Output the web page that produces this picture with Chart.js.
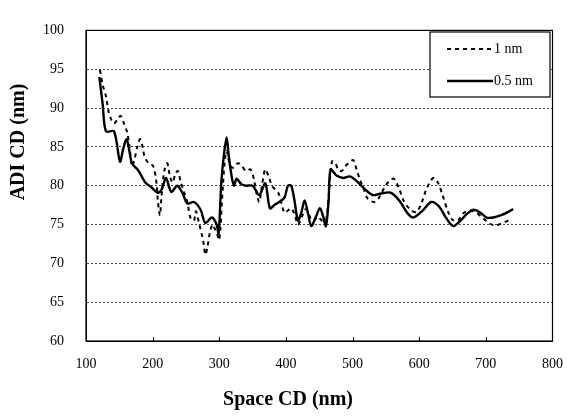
<!DOCTYPE html>
<html>
<head>
<meta charset="utf-8">
<script src="https://cdn.jsdelivr.net/npm/chart.js@4"></script>
<style>
  body { margin: 0; background: #fff; }
  canvas { display: block; }
</style>
</head>
<body>
<canvas id="cdChart" width="578" height="419"></canvas>
<script>
// Series
const dashX = [121, 125, 130, 134, 138, 142, 147, 152, 157, 162, 166, 169, 173, 177, 181, 185, 188, 194, 201, 206,
  208, 211, 213, 216, 218, 222, 226, 230, 234, 238, 242, 247, 252, 257, 262, 265, 270, 274, 277, 279,
  282, 286, 290, 293, 296, 300, 304, 308, 311, 315, 320, 328, 334, 340, 347, 352, 356, 360, 364, 369,
  374, 379, 384, 389, 394, 398, 403, 408, 413, 418, 424, 430, 436, 442, 448, 454, 460, 464, 469, 474,
  479, 484, 489, 494, 501, 506, 511, 517, 523, 533, 540, 548, 555, 562, 569, 577, 587, 596, 604, 611,
  621, 628, 635, 643, 650, 658, 667, 677, 686, 696, 706, 714, 723, 731, 738];
const dashY = [94.9, 93.0, 91.5, 89.5, 88.5, 88.0, 88.5, 89.0, 88.0, 86.8, 84.5, 82.5, 83.5, 85.0, 86.0, 85.0, 83.7, 82.9, 82.5, 80.2,
  77.9, 76.2, 78.3, 81.0, 82.1, 82.9, 81.2, 80.4, 81.5, 81.9, 80.5, 79.2, 77.9, 75.8, 75.5, 76.7, 75.0, 73.6, 72.3, 71.1,
  72.0, 74.0, 75.0, 74.5, 74.0, 73.0, 78.0, 83.0, 84.5, 83.0, 82.3, 82.9, 82.5, 81.9, 82.1, 80.8, 79.0, 77.9, 80.0, 82.1,
  81.2, 80.0, 79.5, 79.0, 77.5, 76.5, 76.8, 77.1, 76.3, 75.0, 76.0, 77.0, 76.0, 75.5, 76.0, 75.5, 75.5, 78.5, 83.1, 82.9,
  82.0, 81.9, 82.5, 82.9, 83.3, 82.1, 80.8, 79.5, 78.3, 77.9, 78.5, 79.8, 80.6, 80.9, 79.8, 78.0, 76.9, 76.6, 77.9, 79.6,
  81.0, 80.4, 78.8, 76.7, 75.6, 75.5, 76.5, 76.8, 76.5, 75.8, 75.1, 74.9, 75.1, 75.4, 75.6];

const solidX = [120, 125, 130, 142, 151, 156, 161, 165, 169, 179, 189, 198, 208, 214, 220, 228, 237, 245, 252, 262,
  272, 279, 289, 296, 299, 303, 307, 311, 314, 318, 322, 326, 333, 340, 350, 360, 369, 376, 384, 390,
  398, 403, 408, 413, 418, 423, 428, 433, 438, 445, 451, 456, 460, 464, 467, 476, 486, 496, 506, 518,
  530, 543, 557, 570, 582, 591, 604, 618, 630, 640, 651, 662, 672, 682, 692, 701, 711, 723, 733, 741];
const solidY = [94.0, 90.5, 87.0, 87.0, 83.1, 84.8, 86.0, 84.5, 82.9, 81.9, 80.4, 79.8, 79.1, 79.6, 81.0, 79.2, 80.0, 79.0, 77.7, 77.9,
  76.9, 75.2, 75.9, 75.0, 73.8, 80.4, 84.0, 86.2, 84.0, 81.5, 80.0, 80.9, 80.2, 80.0, 80.0, 78.8, 80.3, 77.1, 77.6, 77.9,
  78.5, 80.0, 80.0, 78.0, 75.5, 76.5, 78.1, 76.5, 74.8, 76.0, 77.1, 76.0, 74.8, 78.0, 82.1, 81.3, 81.0, 81.2, 80.6, 79.6,
  78.8, 79.0, 79.1, 78.1, 76.5, 75.9, 76.7, 77.9, 77.3, 75.9, 74.8, 75.5, 76.4, 76.9, 76.5, 75.9, 75.9, 76.2, 76.6, 77.0];

const seriesNames = ['1 nm', '0.5 nm'];
const xTitle = 'Space CD (nm)';
const yTitle = 'ADI CD (nm)';

const serif = "'Liberation Serif', 'Times New Roman', serif";

function toPoints(xs, ys) {
  return xs.map((x, i) => ({ x: x, y: ys[i] }));
}

// frame, inside x ticks, legend box and axis titles
const decorations = {
  id: 'decorations',
  afterDraw(chart) {
    const ctx = chart.ctx;
    const area = chart.chartArea;
    const xScale = chart.scales.x;
    ctx.save();
    ctx.strokeStyle = '#000';
    ctx.lineWidth = 1.2;
    ctx.strokeRect(area.left, area.top, area.right - area.left, area.bottom - area.top);

    ctx.lineWidth = 1;
    for (let v = 200; v < 800; v += 100) {
      const px = Math.round(xScale.getPixelForValue(v)) + 0.5;
      ctx.beginPath();
      ctx.moveTo(px, area.bottom);
      ctx.lineTo(px, area.bottom - 4);
      ctx.stroke();
    }

    // legend
    const lx = 430, ly = 32, lw = 120, lh = 65;
    ctx.fillStyle = '#fff';
    ctx.fillRect(lx, ly, lw, lh);
    ctx.lineWidth = 1.2;
    ctx.strokeRect(lx, ly, lw, lh);
    const rows = [ly + 17, ly + 49];
    chart.data.datasets.forEach((ds, i) => {
      ctx.beginPath();
      ctx.lineWidth = ds.borderWidth;
      ctx.setLineDash(ds.borderDash || []);
      ctx.moveTo(lx + 17, rows[i]);
      ctx.lineTo(lx + 63, rows[i]);
      ctx.stroke();
      ctx.setLineDash([]);
      ctx.fillStyle = '#000';
      ctx.font = '14px ' + serif;
      ctx.textAlign = 'left';
      ctx.textBaseline = 'middle';
      ctx.fillText(ds.label, lx + 64, rows[i]);
    });

    // axis titles
    ctx.fillStyle = '#000';
    ctx.font = 'bold 20px ' + serif;
    ctx.textAlign = 'center';
    ctx.textBaseline = 'middle';
    ctx.fillText(xTitle, 288, 400);
    ctx.translate(19, 142);
    ctx.rotate(-Math.PI / 2);
    ctx.fillText(yTitle, 0, 0);
    ctx.restore();
  }
};

const ctx = document.getElementById('cdChart').getContext('2d');
const cdChart = new Chart(ctx, {
  type: 'scatter',
  data: {
    datasets: [
      {
        label: seriesNames[0],
        data: toPoints(dashX, dashY),
        showLine: true,
        borderColor: '#000',
        borderWidth: 2,
        borderDash: [4, 4],
        pointRadius: 0,
        tension: 0.3
      },
      {
        label: seriesNames[1],
        data: toPoints(solidX, solidY),
        showLine: true,
        borderColor: '#000',
        borderWidth: 2.4,
        pointRadius: 0,
        tension: 0.3
      }
    ]
  },
  options: {
    responsive: false,
    animation: false,
    layout: { padding: { top: 19, right: 14, left: 0, bottom: 0 } },
    plugins: {
      legend: { display: false },
      tooltip: { enabled: false }
    },
    scales: {
      x: {
        type: 'linear',
        min: 100,
        max: 800,
        afterFit(scale) { scale.height = 78; },
        ticks: {
          stepSize: 100,
          padding: 15,
          color: '#000',
          font: { family: serif, size: 14 }
        },
        grid: { display: false, drawTicks: false },
        border: { display: true, color: '#000' }
      },
      y: {
        min: 60,
        max: 100,
        afterFit(scale) { scale.width = 86; },
        ticks: {
          stepSize: 5,
          padding: 22,
          color: '#000',
          font: { family: serif, size: 14 }
        },
        grid: {
          drawTicks: false,
          color: (c) => (c.tick.value === 60 || c.tick.value === 100) ? 'rgba(0,0,0,0)' : '#444',
          lineWidth: 1
        },
        border: { display: true, color: '#000', dash: [2, 2] }
      }
    }
  },
  plugins: [decorations]
});
</script>
</body>
</html>
